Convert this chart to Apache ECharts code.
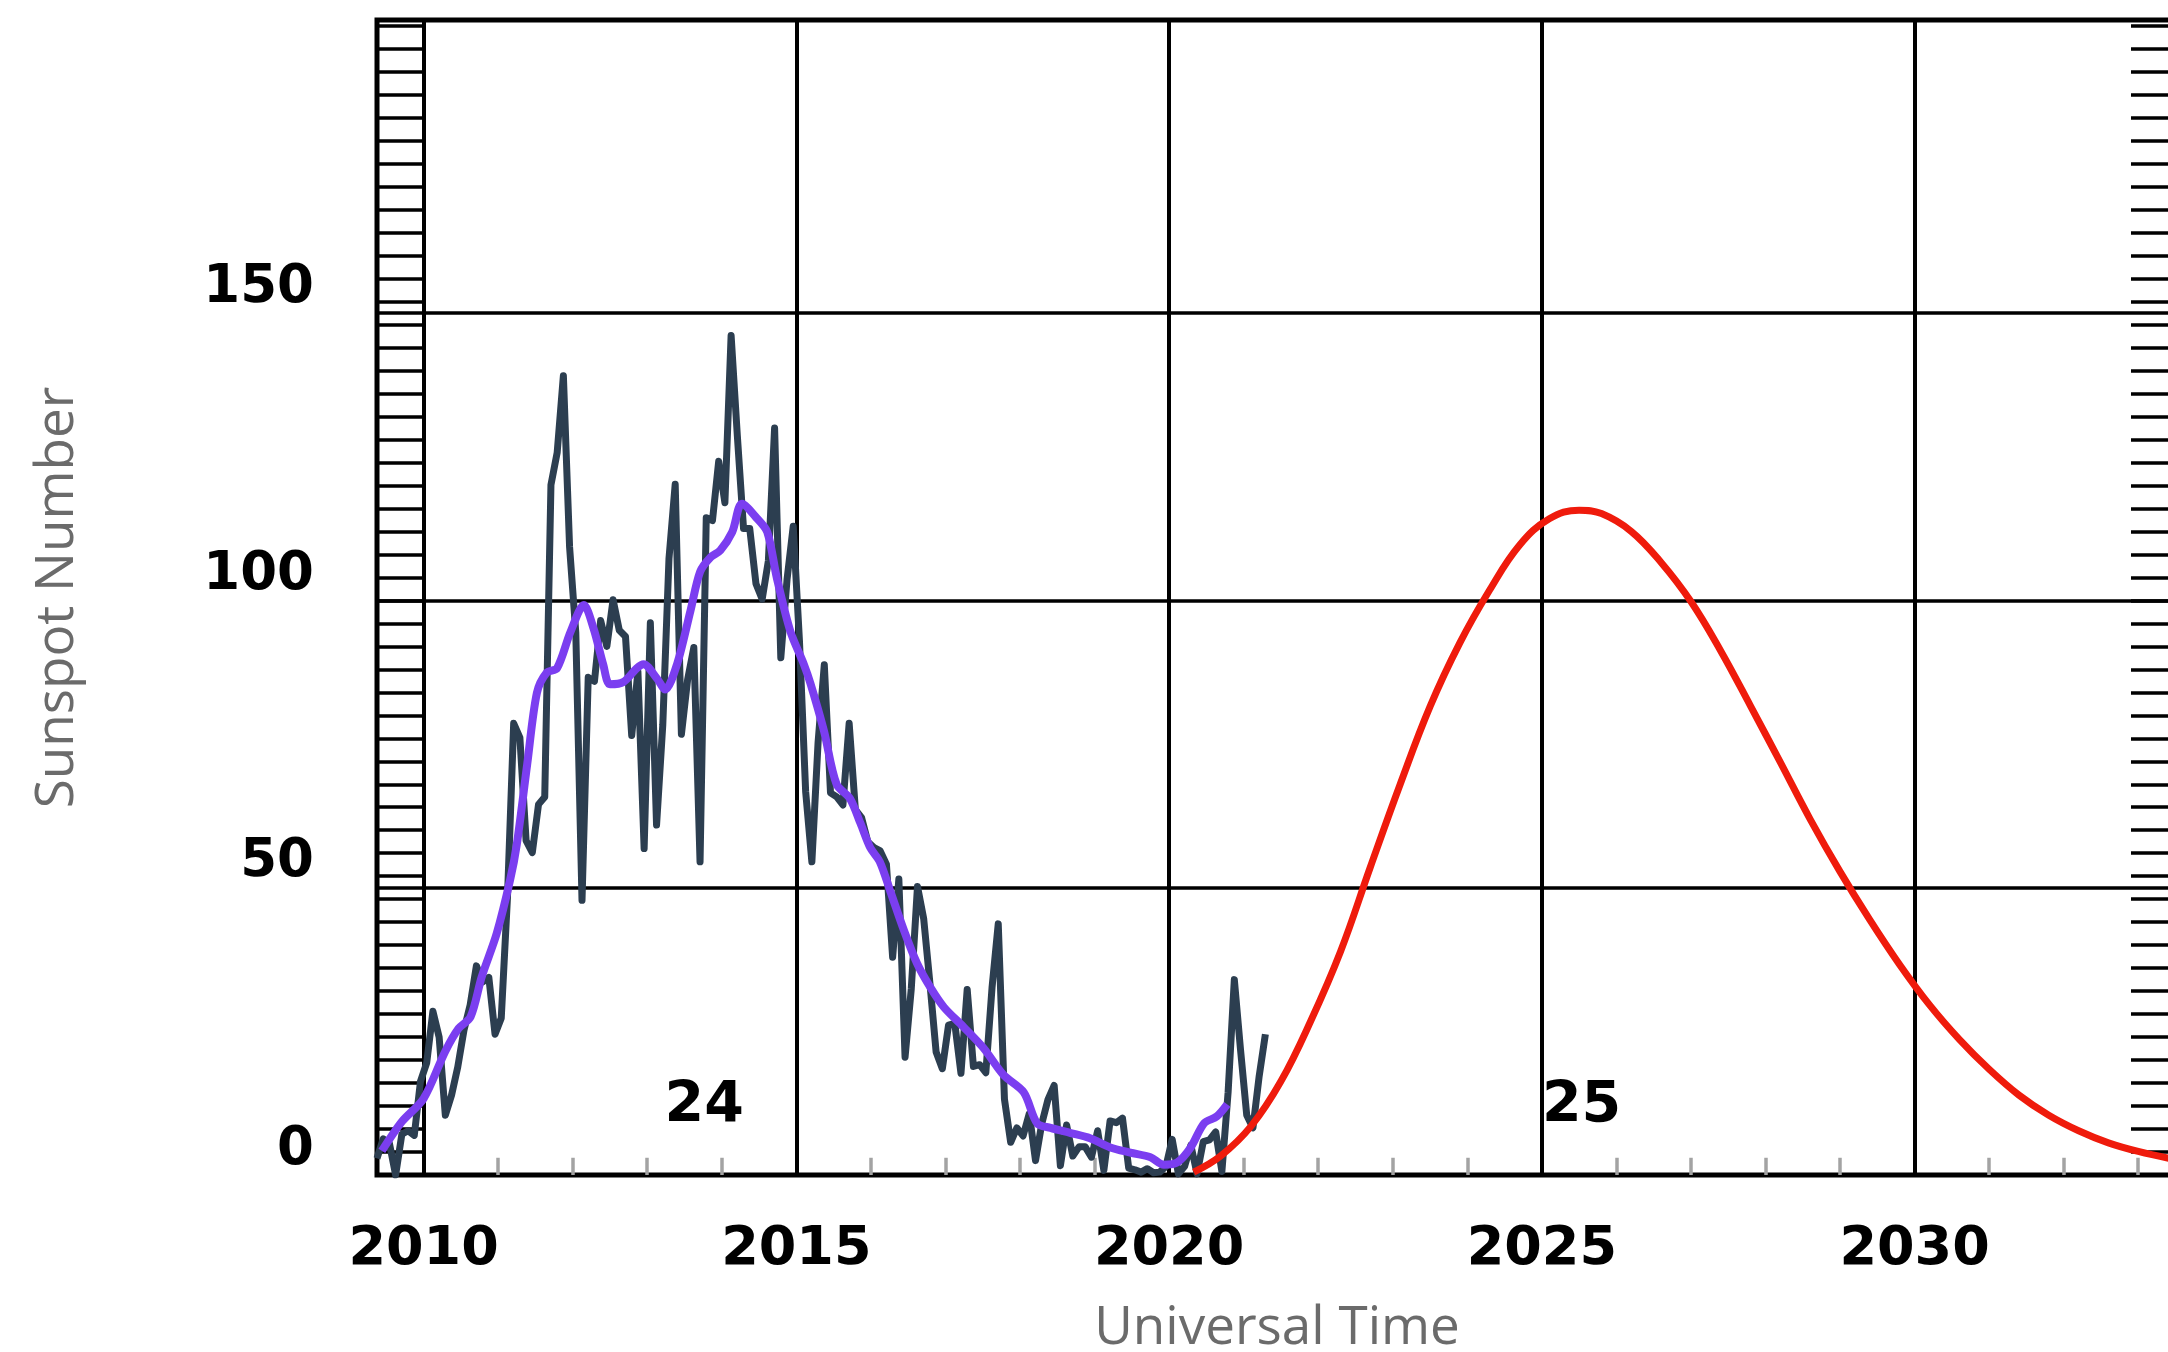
<!DOCTYPE html>
<html><head><meta charset="utf-8">
<script src="https://cdn.jsdelivr.net/npm/echarts@6/dist/echarts.min.js"></script>
<style>html,body{margin:0;padding:0;background:#fff}#c{width:2168px;height:1352px}</style>
</head><body><div id="c"></div>
<script>
// Monthly sunspot numbers, starting May 2009
const ssnStartYear = 2009;
const ssnStartMonth = 5;
const ssnMonthly = [
  2.9, 6.3, 5.5, 0.0, 7.1, 7.7, 6.9, 16.3,
  19.5, 28.5, 24.0, 10.4, 13.9, 18.8, 25.2, 29.6, 36.4, 33.6, 34.4, 24.5,
  27.3, 48.3, 78.6, 76.1, 58.2, 56.1, 64.5, 65.8, 120.1, 125.7, 139.1, 109.3,
  94.4, 47.8, 86.6, 85.9, 96.5, 92.0, 100.1, 94.8, 93.7, 76.5, 87.6, 56.8,
  96.1, 60.9, 78.3, 107.3, 120.2, 76.7, 86.2, 91.8, 54.5, 114.4, 113.9, 124.2,
  117.0, 146.1, 128.7, 112.5, 112.5, 102.9, 100.2, 106.9, 130.0, 90.0, 103.6, 112.9,
  93.0, 66.7, 54.5, 75.3, 88.8, 66.5, 65.8, 64.4, 78.6, 63.6, 62.2, 58.0,
  57.0, 56.4, 54.1, 37.9, 51.5, 20.5, 32.4, 50.2, 44.6, 33.4, 21.4, 18.5,
  26.1, 26.4, 17.7, 32.3, 18.9, 19.2, 17.8, 32.6, 43.7, 13.2, 5.7, 8.2,
  6.8, 10.7, 2.5, 8.9, 13.1, 15.6, 1.6, 8.7, 3.3, 4.9, 4.9, 3.1,
  7.7, 0.8, 9.4, 9.1, 9.9, 1.2, 0.9, 0.5, 1.1, 0.4, 0.5, 1.5,
  6.2, 0.2, 1.5, 5.2, 0.2, 5.8, 6.1, 7.5, 0.6, 14.4, 34.0, 21.8,
  10.4, 8.2, 17.2, 24.5
];
// Smoothed sunspot number [decimal year, value]
const smoothedSSN = [
  [2009.44, 4.2], [2009.71, 9.3], [2010.00, 13.3], [2010.29, 21.5], [2010.47, 25.5],
  [2010.63, 27.5], [2010.78, 34.5], [2010.98, 42.0], [2011.16, 51.3], [2011.25, 57.5],
  [2011.39, 71.5], [2011.52, 83.9], [2011.65, 87.4], [2011.79, 88.2], [2011.97, 94.5],
  [2012.15, 99.2], [2012.28, 95.1], [2012.41, 88.8], [2012.50, 85.4], [2012.68, 85.8],
  [2012.86, 88.2], [2012.95, 88.9], [2013.13, 86.4], [2013.24, 84.5], [2013.40, 88.9],
  [2013.58, 98.2], [2013.71, 105.0], [2013.85, 107.5], [2013.98, 108.7], [2014.14, 111.9],
  [2014.27, 116.8], [2014.47, 114.3], [2014.61, 111.9], [2014.74, 103.8], [2014.92, 94.6],
  [2015.10, 88.9], [2015.19, 85.5], [2015.37, 77.3], [2015.54, 68.0], [2015.72, 65.5],
  [2015.86, 61.2], [2015.99, 57.0], [2016.12, 54.5], [2016.26, 49.4], [2016.44, 42.7],
  [2016.62, 36.8], [2016.80, 32.6], [2016.98, 29.2], [2017.24, 25.8], [2017.51, 22.1],
  [2017.78, 17.4], [2018.05, 14.4], [2018.23, 9.0], [2018.41, 8.2], [2018.68, 7.3],
  [2018.94, 6.4], [2019.21, 4.8], [2019.48, 3.9], [2019.75, 3.1], [2019.93, 1.8],
  [2020.11, 2.2], [2020.29, 4.8], [2020.47, 9.0], [2020.64, 10.2], [2020.78, 12.3]
];
// Predicted cycle 25 [decimal year, value]
const predictedSSN = [
  [2020.33, 0.5], [2020.70, 3.4], [2021.10, 8.5], [2021.50, 16.3], [2021.90, 26.8],
  [2022.30, 38.9], [2022.70, 53.6], [2023.10, 68.0], [2023.50, 81.5], [2023.90, 92.6],
  [2024.30, 101.8], [2024.70, 109.6], [2025.10, 114.2], [2025.50, 115.7], [2025.80, 115.1],
  [2026.20, 112.0], [2026.60, 106.6], [2027.00, 99.8], [2027.40, 91.2], [2027.80, 81.6],
  [2028.20, 71.8], [2028.60, 61.9], [2029.00, 52.8], [2029.40, 44.4], [2029.80, 36.6],
  [2030.20, 29.6], [2030.60, 23.6], [2031.00, 18.4], [2031.40, 13.9], [2031.80, 10.4],
  [2032.20, 7.7], [2032.60, 5.6], [2033.00, 4.1], [2033.52, 2.6]
];
const majorYears = [2010, 2015, 2020, 2025, 2030];
const minorYears = [2011, 2012, 2013, 2014, 2016, 2017, 2018, 2019, 2021, 2022, 2023, 2024,
                    2026, 2027, 2028, 2029, 2031, 2032, 2033];
const yGridValues = [50, 100, 150];
const yTickLabels = [0, 50, 100, 150];
const cycleNames = ['24', '25'];
const cyclePositions = [[2013.77, 11.8], [2025.54, 11.8]];

const ssnData = ssnMonthly.map((v, i) => [ssnStartYear + (ssnStartMonth - 1 + i + 0.5) / 12, v]);

const boldFont = {fontFamily: 'DejaVu Sans', fontWeight: 'bold', color: '#000'};
const nameFont = {fontFamily: 'Open Sans', fontSize: 53, color: '#6b6b6b'};
const hatchTick = {show: true, inside: true, length: 46, lineStyle: {color: '#000', width: 3.5}};

const chart = echarts.init(document.getElementById('c'), null, {renderer: 'canvas'});
chart.setOption({
  animation: false,
  backgroundColor: '#fff',
  grid: {left: 377, right: -9, top: 20, bottom: 177, outerBoundsMode: 'none', containLabel: false,
         show: true, borderColor: '#000', borderWidth: 5, backgroundColor: 'transparent'},
  xAxis: {
    type: 'value', min: 2009.375, max: 2033.52,
    axisLine: {show: false}, axisTick: {show: false}, axisLabel: {show: false}, splitLine: {show: false},
    name: 'Universal Time', nameLocation: 'middle', nameGap: 127, nameTextStyle: nameFont
  },
  yAxis: [
    {
      type: 'value', min: 0, max: 201, interval: 50, position: 'left',
      axisLine: {show: false}, axisTick: {show: false}, splitLine: {show: false},
      axisLabel: Object.assign({
        margin: 63, fontSize: 53, verticalAlign: 'bottom', lineHeight: 50,
        formatter: v => yTickLabels.includes(v) ? String(v) : ''
      }, boldFont),
      name: 'Sunspot Number', nameLocation: 'middle', nameGap: 293, nameTextStyle: nameFont
    },
    {
      type: 'value', min: 0, max: 201, interval: 4, position: 'left',
      axisLine: {show: false}, axisLabel: {show: false}, splitLine: {show: false},
      axisTick: hatchTick
    },
    {
      type: 'value', min: 0, max: 201, interval: 4, position: 'right',
      axisLine: {show: false}, axisLabel: {show: false}, splitLine: {show: false},
      axisTick: hatchTick
    }
  ],
  series: [
    {
      type: 'line', name: 'Monthly', data: ssnData, showSymbol: false, z: 3,
      lineStyle: {color: '#2c3e50', width: 7, join: 'round'},
      markLine: {
        silent: true, z: 1, symbol: ['none', 'none'], animation: false,
        lineStyle: {color: '#000', width: 4, type: 'solid'},
        label: Object.assign({show: true, position: 'start', distance: 48, fontSize: 54, lineHeight: 54, formatter: '{b}'}, boldFont),
        emphasis: {disabled: true},
        data: majorYears.map(y => ({xAxis: y, name: String(y)}))
      }
    },
    {
      type: 'line', name: 'Smoothed', data: smoothedSSN, showSymbol: false, z: 4, smooth: 0.3,
      lineStyle: {color: '#7b3ef0', width: 8, join: 'round'},
      markLine: {
        silent: true, z: 1, symbol: ['none', 'none'], animation: false,
        label: {show: false}, emphasis: {disabled: true},
        lineStyle: {color: '#000', width: 3.6, type: 'solid'},
        data: yGridValues.map(v => ({yAxis: v}))
          .concat(minorYears.map(y => [{coord: [y, 0], lineStyle: {color: '#a3a3a3', width: 3.5, type: 'solid'}}, {coord: [y, 3]}]))
      }
    },
    {
      type: 'line', name: 'Predicted', data: predictedSSN, showSymbol: false, z: 3, smooth: 0.4,
      lineStyle: {color: '#ef1b0c', width: 7}
    },
    {
      type: 'scatter', name: 'Cycle', z: 5, symbolSize: 1, itemStyle: {color: 'rgba(0,0,0,0)'},
      data: cycleNames.map((n, i) => ({name: n, value: cyclePositions[i]})),
      label: Object.assign({show: true, position: [0, 0], align: 'center', verticalAlign: 'middle',
                            formatter: '{b}', fontSize: 57, lineHeight: 57, opacity: 1}, boldFont)
    }
  ]
});
</script></body></html>
